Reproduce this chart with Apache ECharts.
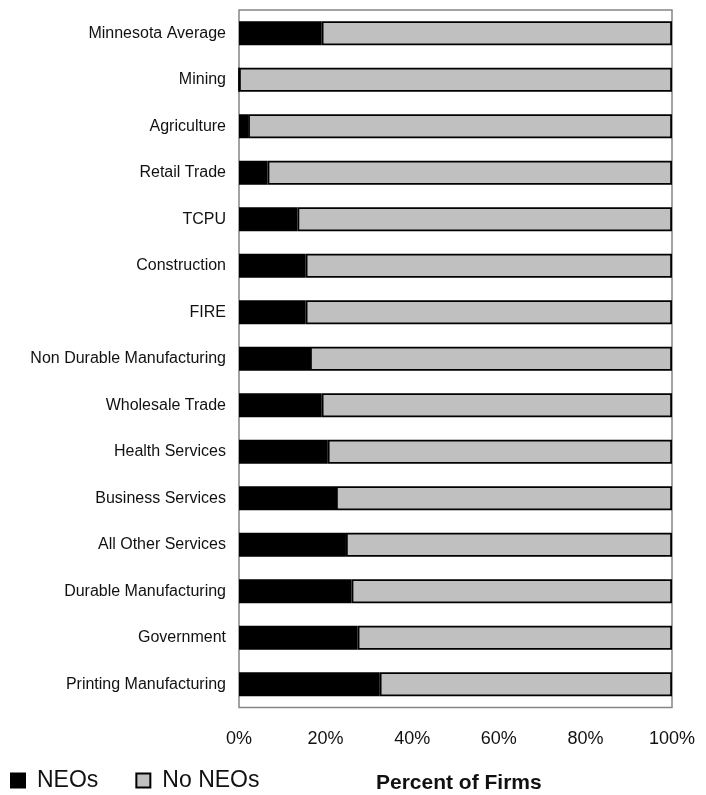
<!DOCTYPE html>
<html>
<head>
<meta charset="utf-8">
<script src="https://cdn.jsdelivr.net/npm/echarts@6/dist/echarts.min.js"></script>
<style>
html,body{margin:0;padding:0;background:#fff;}
#chart{width:706px;height:795px;}
</style>
</head>
<body>
<div id="chart"></div>
<script>
var categories = ['Minnesota Average','Mining','Agriculture','Retail Trade','TCPU','Construction','FIRE','Non Durable Manufacturing','Wholesale Trade','Health Services','Business Services','All Other Services','Durable Manufacturing','Government','Printing Manufacturing'];
var neoValues = [19.1, 0, 2.1, 6.6, 13.5, 15.4, 15.4, 16.4, 19.1, 20.5, 22.4, 24.7, 26.0, 27.4, 32.5];
var noNeoValues = [80.9, 100, 97.9, 93.4, 86.5, 84.6, 84.6, 83.6, 80.9, 79.5, 77.6, 75.3, 74.0, 72.6, 67.5];
var xTicks = [0, 20, 40, 60, 80, 100];
var seriesNames = ['NEOs', 'No NEOs'];
var axisTitle = 'Percent of Firms';

var font = '"Liberation Sans", Arial, sans-serif';
var chart = echarts.init(document.getElementById('chart'), null, {renderer: 'canvas'});
chart.setOption({
  animation: false,
  backgroundColor: '#fff',
  grid: {left: 239, top: 10, width: 433, height: 697.5, show: true, borderColor: '#858585', borderWidth: 1.5, backgroundColor: 'transparent', containLabel: false},
  title: {text: axisTitle, left: 371, top: 768, textStyle: {fontFamily: font, fontSize: 21, fontWeight: 'bold', color: '#111'}},
  legend: {
    left: 5, top: 764, itemWidth: 14, itemHeight: 14, itemGap: 37, icon: 'rect',
    textStyle: {fontFamily: font, fontSize: 23, color: '#111', padding: [0, 0, 0, 7]},
    data: seriesNames
  },
  xAxis: {
    type: 'value', min: xTicks[0], max: xTicks[xTicks.length - 1], interval: 20,
    axisLine: {show: false}, axisTick: {show: false}, splitLine: {show: false},
    axisLabel: {formatter: '{value}%', fontFamily: font, fontSize: 18, color: '#111', margin: 23}
  },
  yAxis: {
    type: 'category', data: categories, inverse: true,
    axisLine: {show: false}, axisTick: {show: false},
    axisLabel: {fontFamily: font, fontSize: 16, color: '#111', margin: 13}
  },
  series: [
    {name: seriesNames[0], type: 'bar', stack: 'total', data: neoValues, barWidth: 24,
     itemStyle: {color: '#000', borderColor: '#000', borderWidth: 1.8}},
    {name: seriesNames[1], type: 'bar', stack: 'total', data: noNeoValues, barWidth: 24,
     itemStyle: {color: '#c0c0c0', borderColor: '#000', borderWidth: 1.8}}
  ]
});
</script>
</body>
</html>
